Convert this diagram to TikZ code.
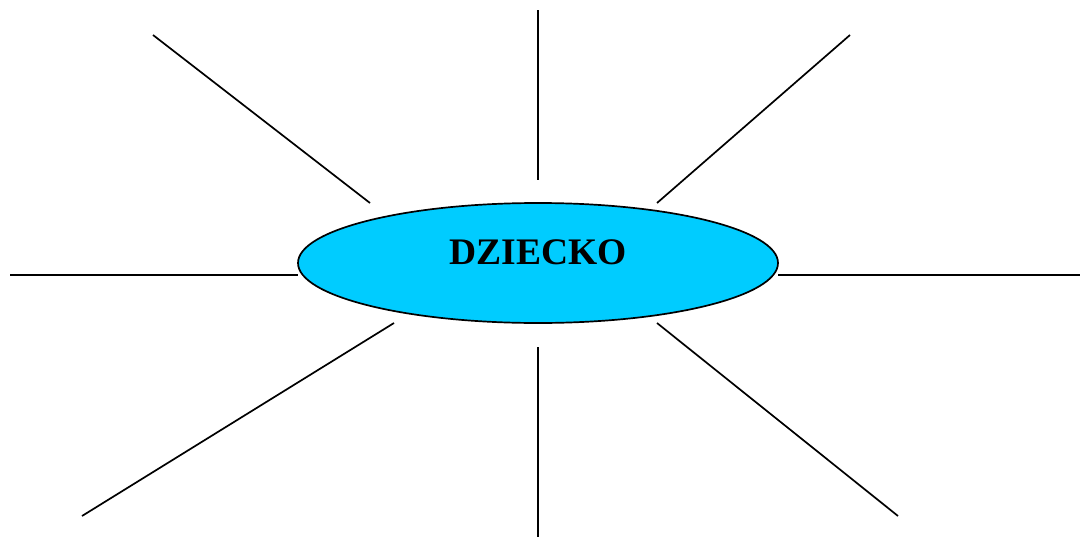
\documentclass[tikz,border=0pt]{standalone}
\usepackage{fontspec}
\setmainfont{Liberation Serif}
\usetikzlibrary{shapes.geometric}
\definecolor{kid}{HTML}{00CCFF}
\begin{document}
\begin{tikzpicture}[x=1pt,y=-1pt,
  ray/.style={draw=black,line width=1.7pt},
  hub/.style={ellipse,draw=black,line width=1.7pt,fill=kid,inner sep=0pt,
    minimum width=480pt,minimum height=120pt}]
\useasboundingbox (0,0) rectangle (1081,538);
\node[hub] (e) at (538,263) {};
\node[font=\fontsize{37.5}{40}\selectfont\bfseries,anchor=base] (t) at (538,264) {DZIECKO};
\coordinate (a1) at (153,35);  \coordinate (a2) at (370,203);
\coordinate (b1) at (538,10);  \coordinate (b2) at (538,180);
\coordinate (c1) at (850,35);  \coordinate (c2) at (657,203);
\coordinate (d1) at (10,275);  \coordinate (d2) at (298,275);
\coordinate (f1) at (778,275); \coordinate (f2) at (1080,275);
\coordinate (g1) at (82,516);  \coordinate (g2) at (394,323);
\coordinate (h1) at (538,347); \coordinate (h2) at (538,537);
\coordinate (k1) at (657,323); \coordinate (k2) at (898,516);
\draw[ray] (a1) -- (a2);
\draw[ray] (b1) -- (b2);
\draw[ray] (c1) -- (c2);
\draw[ray] (d1) -- (d2);
\draw[ray] (f1) -- (f2);
\draw[ray] (g1) -- (g2);
\draw[ray] (h1) -- (h2);
\draw[ray] (k1) -- (k2);
\end{tikzpicture}
\end{document}
